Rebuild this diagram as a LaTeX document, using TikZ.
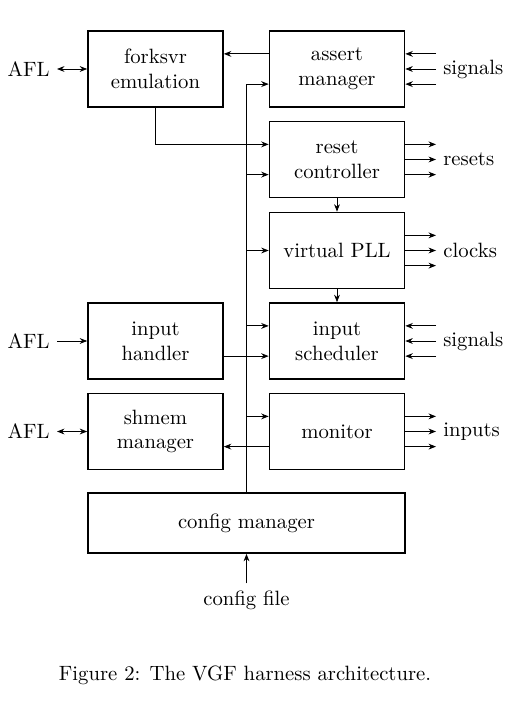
\documentclass[tikz,border=0pt]{standalone}
\usetikzlibrary{arrows.meta,calc}

\tikzset{every picture/.style={line width=0.4pt}}
\tikzset{
  block/.style={draw, line width=0.8pt, minimum width=65.2pt, minimum height=36.7pt, align=center},
  wide block/.style={block, minimum width=153pt, minimum height=29pt},
  >={Stealth[length=3.6pt,width=2.8pt]}
}
% offset of the upper/lower lines (yscale=-1 flips the sign of yshift)
\def\off{7.3pt}

\begin{document}
\begin{tikzpicture}[x=0.483pt,y=0.483pt,yscale=-1,xscale=1]
	\useasboundingbox (0,0) rectangle (516,703);

	% Blocks
	\node[block] (forks) at (155.5,69) {forksvr\\emulation};
	\node[block] (assert) at (337,69) {assert\\manager};
	\node[block] (reset) at (337,159.5) {reset\\controller};
	\node[block] (pll) at (337,250.5) {virtual PLL};
	\node[block] (handler) at (155.5,341) {input\\handler};
	\node[block] (sched) at (337,341) {input\\scheduler};
	\node[block] (shmem) at (155.5,431.5) {shmem\\manager};
	\node[block] (monitor) at (337,431.5) {monitor};
	\node[wide block] (config) at (246.5,523) {config manager};

	% Outside labels
	\node[anchor=east] (aflA) at (57,69) {AFL};
	\node[anchor=east] (aflB) at (57,341) {AFL};
	\node[anchor=east] (aflC) at (57,431.5) {AFL};
	\node[anchor=west] (sigA) at (436,69) {signals};
	\node[anchor=west] (resets) at (436,159.5) {resets};
	\node[anchor=west] (clocks) at (436,250.5) {clocks};
	\node[anchor=west] (sigB) at (436,341) {signals};
	\node[anchor=west] (inputs) at (436,431.5) {inputs};
	\node (cfile) at (246.5,600) {config file};

	% Caption
	\node (caption) at (245,675) {Figure 2: The VGF harness architecture.};

	% Left side
	\draw[<->] (aflA.east) -- (forks.west);
	\draw[->] (aflB.east) -- (handler.west);
	\draw[<->] (aflC.east) -- (shmem.west);

	% Right side, three lines each
	\foreach \o in {-1,0,1} {
		\draw[->] ([yshift=\o*\off]sigA.west) -- ([yshift=\o*\off]sigA.west -| assert.east);
		\draw[->] ([yshift=\o*\off]resets.west -| reset.east) -- ([yshift=\o*\off]resets.west);
		\draw[->] ([yshift=\o*\off]clocks.west -| pll.east) -- ([yshift=\o*\off]clocks.west);
		\draw[->] ([yshift=\o*\off]sigB.west) -- ([yshift=\o*\off]sigB.west -| sched.east);
		\draw[->] ([yshift=\o*\off]inputs.west -| monitor.east) -- ([yshift=\o*\off]inputs.west);
	}

	% Between blocks
	\draw[->] ([yshift=-\off]assert.west) -- ([yshift=-\off]forks.east);
	\draw[->] (forks.south) |- ([yshift=-\off]reset.west);
	\draw[->] (reset.south) -- (pll.north);
	\draw[->] (pll.south) -- (sched.north);
	\draw[->] ([yshift=\off]handler.east) -- ([yshift=\off]sched.west);
	\draw[->] ([yshift=\off]monitor.west) -- ([yshift=\off]shmem.east);

	% Config bus
	\draw[->] (config.north) |- ([yshift=\off]assert.west);
	\draw[->] ([yshift=\off]reset.west -| config.north) -- ([yshift=\off]reset.west);
	\draw[->] (pll.west -| config.north) -- (pll.west);
	\draw[->] ([yshift=-\off]sched.west -| config.north) -- ([yshift=-\off]sched.west);
	\draw[->] ([yshift=-\off]monitor.west -| config.north) -- ([yshift=-\off]monitor.west);
	\draw[->] (cfile.north) -- (config.south);

\end{tikzpicture}
\end{document}
